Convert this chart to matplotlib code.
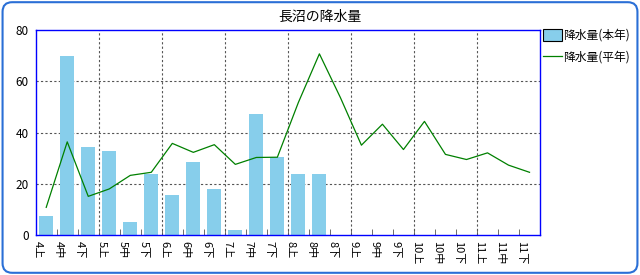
import matplotlib
matplotlib.use('Agg')
import matplotlib.pyplot as plt
import numpy as np
from matplotlib.patches import FancyBboxPatch

plt.rcParams['font.family'] = ['Noto Sans CJK JP', 'DejaVu Sans']

# 半旬ごとのカテゴリ
categories = ['4上', '4中', '4下', '5上', '5中', '5下', '6上', '6中', '6下',
              '7上', '7中', '7下', '8上', '8中', '8下', '9上', '9中', '9下',
              '10上', '10中', '10下', '11上', '11中', '11下']
# 本年 (途中まで)
honnen = [7.5, 70.0, 34.5, 33.0, 5.2, 24.0, 15.8, 28.7, 17.8, 2.1, 47.3, 30.6, 24.0, 24.0]
# 平年
heinen = [10.8, 36.4, 15.1, 18.0, 23.3, 24.5, 35.8, 32.3, 35.3, 27.6, 30.3, 30.4,
          51.8, 70.8, 53.7, 35.1, 43.3, 33.4, 44.4, 31.5, 29.5, 32.1, 27.3, 24.5]

x = np.arange(len(categories))

fig = plt.figure(figsize=(6.4, 2.75), dpi=100)
ax = fig.add_axes([0.0558, 0.1455, 0.788, 0.7443])

bars = ax.bar(x[:len(honnen)], honnen, width=0.67, color='#87CEEB', label='降水量(本年)', zorder=2)
line, = ax.plot(x, heinen, color='#008000', lw=0.9, label='降水量(平年)', zorder=3)

ax.set_xlim(-0.5, len(categories) - 0.5)
ax.set_ylim(0, 80)
ax.set_yticks([0, 20, 40, 60, 80])

# 目盛線
for y in [20, 40, 60]:
    ax.axhline(y, color='#555555', lw=0.8, ls=(0, (2, 2)), zorder=1)
bounds = np.arange(0.5, len(categories) - 0.5)
for b in bounds[2::3]:
    ax.axvline(b, color='#555555', lw=0.8, ls=(0, (2, 2)), zorder=1)

ax.set_xticks(x - 0.38)
ax.set_xticklabels(categories, rotation=-90, fontsize=8)
ax.set_xticks(bounds, minor=True)
ax.tick_params(axis='x', which='major', length=0, pad=4)
ax.tick_params(axis='x', which='minor', direction='in', length=4, color='#555555')
ax.tick_params(axis='y', length=0, pad=5, labelsize=8.5)

for s in ax.spines.values():
    s.set_color('#0000ff')
    s.set_linewidth(1.0)

fig.suptitle('長沼の降水量', x=0.5, y=0.965, fontsize=10)

leg = ax.legend([bars, line], ['降水量(本年)', '降水量(平年)'],
                loc='upper left', bbox_to_anchor=(0.848, 0.895), bbox_transform=fig.transFigure,
                frameon=False, fontsize=8.5, handlelength=1.6, handleheight=1.1,
                handletextpad=0.1, borderaxespad=0, borderpad=0, labelspacing=0.75)
leg.get_patches()[0].set_edgecolor('black')
leg.get_patches()[0].set_linewidth(0.8)

frame = FancyBboxPatch((0.004, 0.008), 0.992, 0.984, boxstyle='round,pad=0,rounding_size=0.015',
                       transform=fig.transFigure, fill=False, edgecolor='#2a6fd6', lw=1.5,
                       mutation_aspect=640 / 275)
fig.patches.append(frame)

fig.savefig('out.png', dpi=100)
